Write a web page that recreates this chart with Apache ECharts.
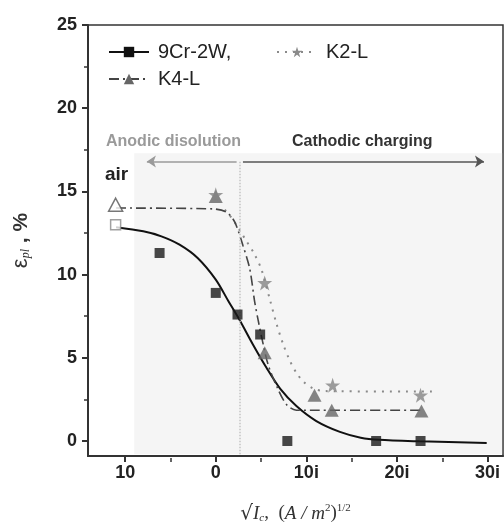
<!DOCTYPE html>
<html>
<head>
<meta charset="utf-8">
<script src="https://cdn.jsdelivr.net/npm/echarts@6.0.0/dist/echarts.min.js"></script>
<style>
  html, body { margin: 0; padding: 0; background: #fff; }
  #chart { width: 504px; height: 529px; }
</style>
</head>
<body>
<div id="chart"></div>
<script>
// measured points
const sq9Cr = [[-6.2, 11.3], [0, 8.9], [2.4, 7.6], [4.9, 6.4], [7.9, 0], [17.7, 0], [22.6, 0]]
const triK4 = [[0, 14.7], [5.4, 5.3], [10.9, 2.75], [12.8, 1.85], [22.7, 1.8]]
const starK2 = [[0, 14.8], [5.4, 9.5], [12.9, 3.35], [22.6, 2.75]]
const airSquare = [[-11.05, 13.0]]
const airTriangle = [[-11.05, 14.2]]

// fitted curves
const fit9Cr = [[-11, 12.85], [-8, 12.6], [-6, 12.3], [-4, 11.8], [-2, 11.0], [0, 9.7], [1.4, 8.4],
  [2.6, 7.3], [4.1, 5.8], [5.6, 4.4], [7.1, 3.15], [8.9, 2.1], [11.1, 1.2], [13.7, 0.55],
  [16, 0.2], [18, 0.07], [22.5, -0.02], [29.9, -0.12]]
const fitK4 = [[-11, 14.0], [-0.3, 13.95], [1.2, 13.75], [2.1, 13.15], [3.0, 11.75], [3.75, 10.35],
  [4.3, 8.35], [4.7, 7.2], [5.2, 5.9], [5.8, 4.55], [6.8, 3.2], [7.8, 2.2], [8.9, 1.85], [22.9, 1.85]]
const fitK2 = [[1.0, 13.9], [1.9, 13.3], [2.6, 12.7], [3.4, 12.0], [4.2, 11.3], [5.05, 10.3],
  [5.95, 8.55], [6.7, 7.05], [7.45, 5.8], [8.2, 4.8], [8.9, 4.1], [9.7, 3.55], [10.8, 3.15],
  [12, 3.0], [24.2, 2.97]]

const xTickVals = [-10, 0, 10, 20, 30]
const xTickLabels = ['10', '0', '10i', '20i', '30i']
const xMinorVals = [-5, 5, 15, 25]
const yTickVals = [0, 5, 10, 15, 20, 25]
const yMinorVals = [2.5, 7.5, 12.5, 17.5, 22.5]

const STAR = 'path://M50,0 L61.8,35.1 L98.9,35.1 L68.9,57.3 L80.2,92.7 L50,71 L19.8,92.7 L31.1,57.3 L1.1,35.1 L38.2,35.1 Z'
const FONT = 'Liberation Sans, Arial, sans-serif'

const chart = echarts.init(document.getElementById('chart'))

const minorAxis = {
  axisLine: { show: false, onZero: false },
  axisLabel: { show: false },
  splitLine: { show: false }
}

chart.setOption({
  animation: false,
  grid: {
    left: 88, right: 1, top: 25, bottom: 71,
    show: true, borderColor: '#333', borderWidth: 1.5
  },
  legend: [
    { data: ['9Cr-2W,'], left: 103, top: 37 },
    { data: ['K2-L'], left: 271, top: 37 },
    { data: ['K4-L'], left: 103, top: 64 }
  ].map(l => Object.assign(l, {
    itemWidth: 40, itemHeight: 13, itemGap: 10,
    textStyle: { fontFamily: FONT, fontSize: 20, color: '#222', padding: [0, 0, 0, 4] }
  })),
  xAxis: [
    {
      type: 'value', min: -14.1, max: 31.7, position: 'bottom',
      axisLine: { onZero: false, lineStyle: { color: '#333', width: 2 } },
      axisTick: { customValues: xTickVals, length: 6, lineStyle: { color: '#333', width: 2 } },
      axisLabel: {
        customValues: xTickVals, margin: 8,
        fontFamily: FONT, fontSize: 18, fontWeight: 'bold', color: '#222',
        formatter: v => xTickLabels[xTickVals.indexOf(v)]
      },
      splitLine: { show: false },
      name: '{r|√}{i|I}{c|c}{n|,  (}{i|A / m}{p|2}{n|)}{p|1/2}',
      nameLocation: 'middle', nameGap: 47,
      nameTextStyle: {
        color: '#333',
        rich: {
          r: { fontFamily: 'DejaVu Serif', fontSize: 20 },
          i: { fontFamily: 'Liberation Serif', fontStyle: 'italic', fontSize: 19 },
          c: { fontFamily: 'Liberation Serif', fontStyle: 'italic', fontSize: 11, padding: [10, 0, 0, 0] },
          n: { fontFamily: 'Liberation Serif', fontSize: 19 },
          p: { fontFamily: 'Liberation Serif', fontSize: 11, padding: [0, 0, 10, 0] }
        }
      }
    },
    Object.assign({
      type: 'value', min: -14.1, max: 31.7, position: 'top', offset: -433,
      axisTick: { customValues: xMinorVals, inside: true, length: 4, lineStyle: { color: '#333', width: 1.5 } }
    }, minorAxis)
  ],
  yAxis: [
    {
      type: 'value', min: -0.9, max: 25, position: 'left',
      axisLine: { onZero: false, lineStyle: { color: '#333', width: 2 } },
      axisTick: { customValues: yTickVals, length: 6, lineStyle: { color: '#333', width: 2 } },
      axisLabel: {
        customValues: yTickVals, margin: 11,
        fontFamily: FONT, fontSize: 18, fontWeight: 'bold', color: '#222'
      },
      splitLine: { show: false },
      name: '{e|ε}{s|pl}{n| , %}',
      nameLocation: 'middle', nameGap: 56, nameRotate: 90,
      nameTextStyle: {
        color: '#333',
        rich: {
          e: { fontFamily: FONT, fontSize: 22 },
          s: { fontFamily: 'Liberation Serif', fontStyle: 'italic', fontSize: 12, padding: [10, 0, 0, 0] },
          n: { fontFamily: FONT, fontSize: 21, fontWeight: 'bold' }
        }
      }
    },
    Object.assign({
      type: 'value', min: -0.9, max: 25, position: 'right', offset: -415,
      axisTick: { customValues: yMinorVals, inside: true, length: 4, lineStyle: { color: '#333', width: 1.5 } }
    }, minorAxis)
  ],
  series: [
    {
      name: '9Cr-2W,', type: 'line', data: fit9Cr, symbol: 'rect', showSymbol: false,
      smooth: 0.3, z: 3,
      lineStyle: { color: '#111', width: 2 }, itemStyle: { color: '#111' },
      markArea: {
        silent: true,
        itemStyle: { color: '#f5f5f5' },
        data: [[{ coord: [-9, -0.8] }, { coord: [31.6, 17.3] }]]
      },
      markLine: {
        silent: true, symbolSize: 9,
        label: { show: false },
        data: [
          [{ coord: [2.6, -0.8], symbol: 'none', lineStyle: { color: '#c4c4c4', type: 'dotted', width: 1.5 } },
           { coord: [2.6, 16.8], symbol: 'none' }],
          [{ coord: [2.3, 16.8], symbol: 'none', lineStyle: { color: '#9a9a9a', type: 'solid', width: 1.5 } },
           { coord: [-7.6, 16.8], symbol: 'arrow' }],
          [{ coord: [3.0, 16.8], symbol: 'none', lineStyle: { color: '#555', type: 'solid', width: 1.5 } },
           { coord: [29.6, 16.8], symbol: 'arrow' }]
        ]
      }
    },
    {
      name: 'K2-L', type: 'line', data: fitK2, symbol: STAR, showSymbol: false,
      smooth: 0.3, z: 3,
      lineStyle: { color: '#8a8a8a', width: 2, type: [2, 6] }, itemStyle: { color: '#8a8a8a' }
    },
    {
      name: 'K4-L', type: 'line', data: fitK4, symbol: 'triangle', showSymbol: false,
      smooth: 0.3, z: 3,
      lineStyle: { color: '#444', width: 1.6, type: [10, 4, 2, 4] }, itemStyle: { color: '#666' }
    },
    {
      name: '9Cr-2W,', type: 'scatter', data: sq9Cr, symbol: 'rect', symbolSize: 10, z: 5,
      itemStyle: { color: '#1a1a1a' }
    },
    {
      name: 'K4-L', type: 'scatter', data: triK4, symbol: 'triangle', symbolSize: [14, 13], z: 5,
      itemStyle: { color: '#666' }
    },
    {
      name: 'K2-L', type: 'scatter', data: starK2, symbol: STAR, symbolSize: 15, z: 6,
      itemStyle: { color: '#858585' }
    },
    {
      name: 'air-sq', type: 'scatter', data: airSquare, symbol: 'rect', symbolSize: 10, z: 5,
      itemStyle: { color: '#fff', borderColor: '#888', borderWidth: 1.5 }
    },
    {
      name: 'air-tri', type: 'scatter', data: airTriangle, symbol: 'triangle', symbolSize: [14, 13], z: 5,
      itemStyle: { color: '#fff', borderColor: '#555', borderWidth: 1.5 }
    }
  ],
  graphic: [
    {
      type: 'text', left: 106, top: 134,
      style: { text: 'Anodic disolution', font: 'bold 16px ' + FONT, fill: '#9a9a9a' }
    },
    {
      type: 'text', left: 292, top: 134,
      style: { text: 'Cathodic charging', font: 'bold 16px ' + FONT, fill: '#333' }
    },
    {
      type: 'text', left: 105, top: 165,
      style: { text: 'air', font: 'bold 19px ' + FONT, fill: '#222' }
    }
  ]
})
</script>
</body>
</html>
